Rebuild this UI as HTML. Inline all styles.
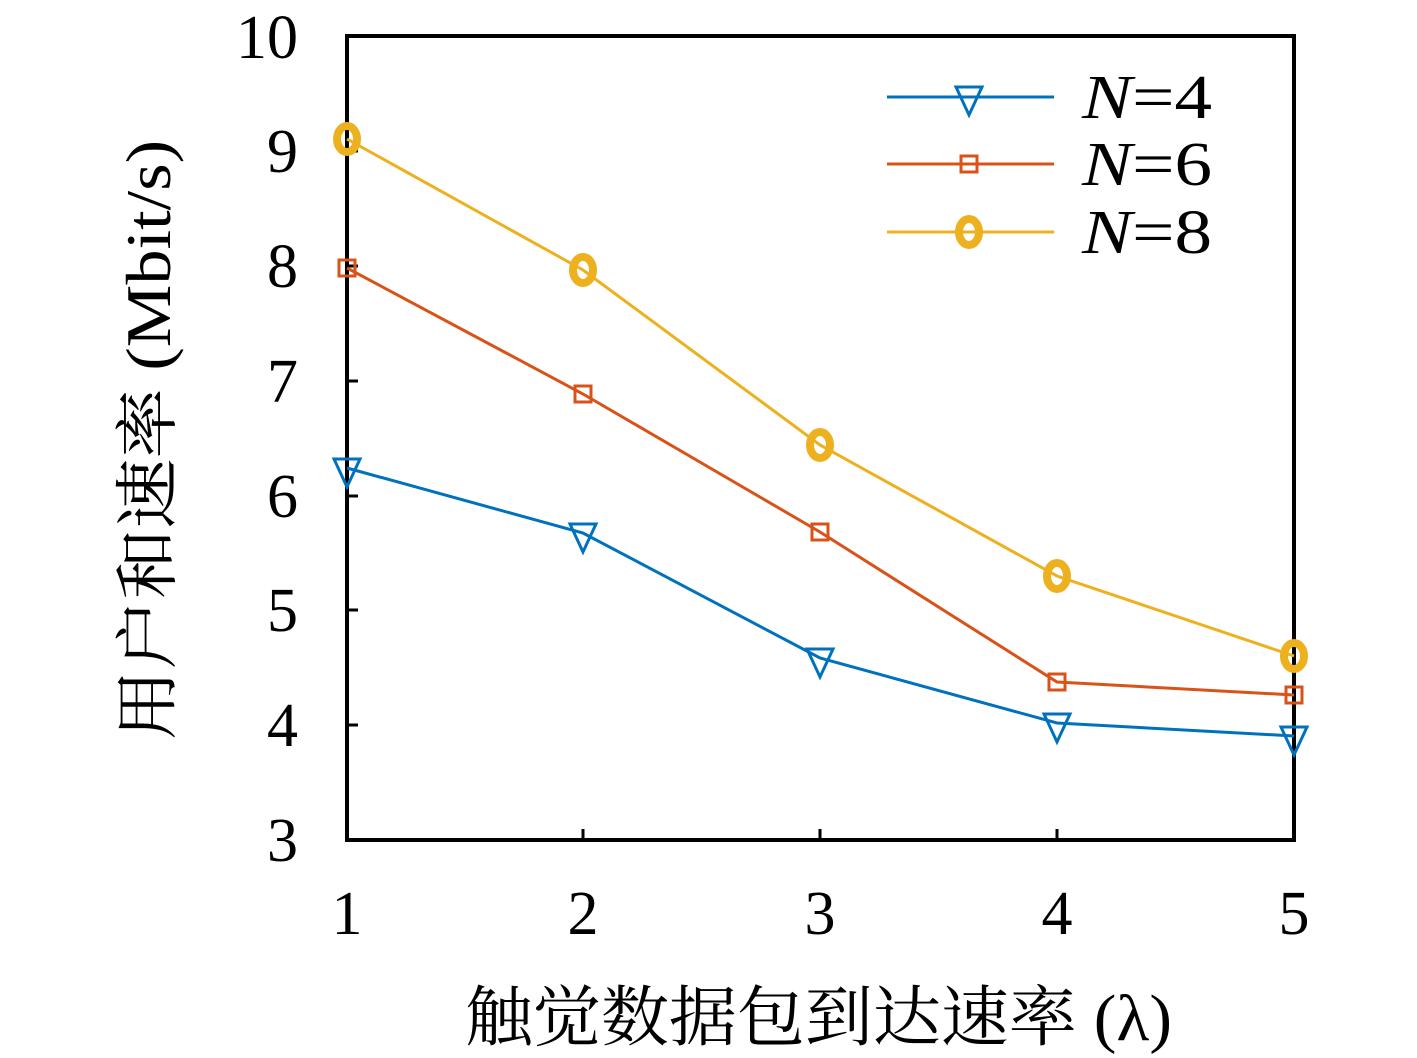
<!DOCTYPE html>
<html><head><meta charset="utf-8"><style>
html,body{margin:0;padding:0;background:#fff;}
svg{display:block;}
text{font-family:"Liberation Serif","Noto Serif CJK SC",serif;fill:#000;}
</style></head><body>
<svg width="1417" height="1058" viewBox="0 0 1417 1058" xmlns="http://www.w3.org/2000/svg">
<rect width="1417" height="1058" fill="#fff"/>
<g stroke="#000" stroke-width="3">
<line x1="347" y1="151" x2="358" y2="151"/><line x1="347" y1="266" x2="358" y2="266"/>
<line x1="347" y1="381" x2="358" y2="381"/><line x1="347" y1="496" x2="358" y2="496"/>
<line x1="347" y1="610" x2="358" y2="610"/><line x1="347" y1="725" x2="358" y2="725"/>
<line x1="583" y1="840" x2="583" y2="829"/><line x1="820" y1="840" x2="820" y2="829"/>
<line x1="1057" y1="840" x2="1057" y2="829"/>
</g>
<rect x="347" y="36" width="947" height="804" fill="none" stroke="#000" stroke-width="4"/>
<g font-size="62" text-anchor="end">
<text x="298" y="58">10</text><text x="298" y="172">9</text><text x="298" y="287">8</text>
<text x="298" y="402">7</text><text x="298" y="517">6</text><text x="298" y="631">5</text>
<text x="298" y="746">4</text><text x="298" y="861">3</text>
</g>
<g font-size="62" text-anchor="middle">
<text x="347" y="934">1</text><text x="583" y="934">2</text><text x="820" y="934">3</text>
<text x="1057" y="934">4</text><text x="1294" y="934">5</text>
</g>
<text x="465" y="1040" font-size="66" textLength="707" lengthAdjust="spacingAndGlyphs">触觉数据包到达速率 (λ)</text>
<text transform="translate(170,740) rotate(-90)" font-size="64" textLength="600" lengthAdjust="spacingAndGlyphs">用户和速率 (Mbit/s)</text>
<polyline fill="none" stroke="#EDB120" stroke-width="3" points="347,139 583,270 820,445 1057,576 1294,656"/>
<polyline fill="none" stroke="#D95319" stroke-width="3" points="347,268 583,394 820,532 1057,682 1294,695"/>
<polyline fill="none" stroke="#0072BD" stroke-width="3" points="347,468 583,533 820,658 1057,723 1294,736"/>
<g fill="none" stroke="#EDB120" stroke-width="8">
<ellipse cx="347" cy="139" rx="10" ry="13"/><ellipse cx="583" cy="270" rx="10" ry="13"/>
<ellipse cx="820" cy="445" rx="10" ry="13"/><ellipse cx="1057" cy="576" rx="10" ry="13"/>
<ellipse cx="1294" cy="656" rx="10" ry="13"/>
<ellipse cx="969" cy="232" rx="10" ry="13"/>
</g>
<g fill="none" stroke="#D95319" stroke-width="3">
<rect x="339" y="260" width="16" height="16"/><rect x="575" y="386" width="16" height="16"/>
<rect x="812" y="524" width="16" height="16"/><rect x="1049" y="674" width="16" height="16"/>
<rect x="1286" y="687" width="16" height="16"/>
<rect x="961" y="156" width="16" height="16"/>
</g>
<g fill="none" stroke="#0072BD" stroke-width="3">
<polygon points="334,459 360,459 347,487"/><polygon points="570,524 596,524 583,552"/>
<polygon points="807,649 833,649 820,677"/><polygon points="1044,714 1070,714 1057,742"/>
<polygon points="1281,727 1307,727 1294,755"/>
<polygon points="956,87 982,87 969,115"/>
</g>
<line x1="887" y1="97" x2="1054" y2="97" stroke="#0072BD" stroke-width="3"/>
<line x1="887" y1="164" x2="1054" y2="164" stroke="#D95319" stroke-width="3"/>
<line x1="887" y1="232" x2="1054" y2="232" stroke="#EDB120" stroke-width="3"/>
<g font-size="62">
<text x="1082" y="118" textLength="130" lengthAdjust="spacingAndGlyphs"><tspan font-style="italic">N</tspan>=4</text>
<text x="1082" y="185" textLength="130" lengthAdjust="spacingAndGlyphs"><tspan font-style="italic">N</tspan>=6</text>
<text x="1082" y="253" textLength="130" lengthAdjust="spacingAndGlyphs"><tspan font-style="italic">N</tspan>=8</text>
</g>
</svg>
</body></html>
